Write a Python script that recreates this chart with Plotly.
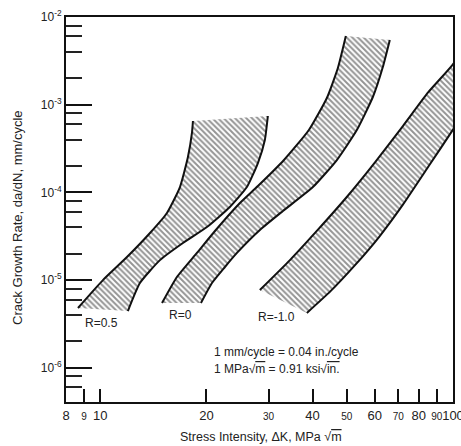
import math
import plotly.graph_objects as go

# ---- data (ΔK in MPa·√m, da/dN in mm/cycle) ----
# R = 0.5 band
r05_upper_k = [8.65, 10.18, 11.91, 13.84, 15.46, 16.83, 17.73, 18.20, 18.32]
r05_upper_g = [4.81e-6, 1.00e-5, 1.83e-5, 3.44e-5, 5.82e-5, 1.15e-4, 2.53e-4, 4.76e-4, 6.52e-4]
r05_lower_k = [11.98, 12.96, 14.77, 17.16, 20.07, 23.31, 26.05, 27.99, 29.29, 29.87]
r05_lower_g = [4.44e-6, 9.27e-6, 1.69e-5, 2.65e-5, 4.03e-5, 6.82e-5, 1.15e-4, 2.16e-4, 3.96e-4, 7.43e-4]

# R = 0 band
r0_upper_k = [14.97, 16.50, 18.80, 21.15, 24.89, 27.99, 33.18, 39.04, 43.90, 47.17, 49.69]
r0_upper_g = [5.48e-6, 1.085e-5, 2.04e-5, 3.63e-5, 7.57e-5, 1.18e-4, 2.34e-4, 5.14e-4, 1.193e-3, 2.62e-3, 6.07e-3]
r0_lower_k = [19.30, 20.74, 22.57, 24.41, 28.35, 32.96, 40.07, 46.86, 53.38, 59.27, 63.26, 66.21]
r0_lower_g = [5.48e-6, 9.27e-6, 1.41e-5, 2.04e-5, 3.73e-5, 6.14e-5, 1.15e-4, 2.34e-4, 5.14e-4, 1.224e-3, 2.69e-3, 5.47e-3]

# R = -1.0 band
rm1_upper_k = [28.35, 34.50, 41.6, 50.0, 60.1, 72.2, 85.0, 99.3, 111.6]
rm1_upper_g = [7.71e-6, 1.69e-5, 3.83e-5, 8.86e-5, 2.20e-4, 5.75e-4, 1.38e-3, 2.79e-3, 5.47e-3]
rm1_lower_k = [38.53, 44.9, 52.6, 61.7, 72.2, 84.8, 100.0, 115.3]
rm1_lower_g = [4.22e-6, 7.43e-6, 1.46e-5, 3.10e-5, 7.30e-5, 1.92e-4, 5.20e-4, 1.30e-3]

band_labels = ["R=0.5", "R=0", "R=-1.0"]
label_k = [10.1, 16.9, 31.7]
label_g = [3.25e-6, 4.0e-6, 3.8e-6]

x_tick_vals = [8, 9, 10, 20, 30, 40, 50, 60, 70, 80, 90, 100]
x_tick_small = [9, 30, 50, 70, 90]
y_tick_vals = [1e-6, 1e-5, 1e-4, 1e-3, 1e-2]
y_tick_text = ["10<sup>-6</sup>", "10<sup>-5</sup>", "10<sup>-4</sup>", "10<sup>-3</sup>", "10<sup>-2</sup>"]
y_minor_vals = [m * 10 ** e for e in range(-7, -2) for m in (2, 4, 6, 8)]

FONT = "Liberation Sans, Arial, sans-serif"
TXT = "#222"

fig = go.Figure()

bands = [
    (r05_upper_k, r05_upper_g, r05_lower_k, r05_lower_g),
    (r0_upper_k, r0_upper_g, r0_lower_k, r0_lower_g),
    (rm1_upper_k, rm1_upper_g, rm1_lower_k, rm1_lower_g),
]

for uk, ug, lk, lg in bands:
    px = uk + lk[::-1] + [uk[0]]
    py = ug + lg[::-1] + [ug[0]]
    fig.add_trace(go.Scatter(
        x=px, y=py, mode="lines", fill="toself",
        line=dict(width=0, color="rgba(0,0,0,0)"),
        fillcolor="white",
        fillpattern=dict(shape="\\", size=4, solidity=0.5,
                         fgcolor="#2a2a2a", bgcolor="white"),
        hoverinfo="skip", showlegend=False,
    ))
    for ek, eg in ((uk, ug), (lk, lg)):
        fig.add_trace(go.Scatter(
            x=ek, y=eg, mode="lines",
            line=dict(color="#111", width=2, shape="spline", smoothing=0.5),
            hoverinfo="skip", showlegend=False,
        ))

annotations = []
for t, k, g in zip(band_labels, label_k, label_g):
    annotations.append(dict(x=math.log10(k), y=math.log10(g), xref="x", yref="y",
                            text=t, showarrow=False,
                            font=dict(family=FONT, size=12, color=TXT)))

sq_m = "√<span style='text-decoration:overline'>m</span>"
sq_in = "√<span style='text-decoration:overline'>in.</span>"
annotations.append(dict(x=math.log10(20.7), y=math.log10(1.51e-6), xref="x", yref="y",
                        xanchor="left", text="1 mm/cycle = 0.04 in./cycle", showarrow=False,
                        font=dict(family=FONT, size=12, color=TXT)))
annotations.append(dict(x=math.log10(20.7), y=math.log10(9.7e-7), xref="x", yref="y",
                        xanchor="left", text="1 MPa" + sq_m + " = 0.91 ksi" + sq_in,
                        showarrow=False, font=dict(family=FONT, size=12, color=TXT)))
# axis titles
annotations.append(dict(x=0.504, y=-0.091, xref="paper", yref="paper",
                        xanchor="center", yanchor="middle",
                        text="Stress Intensity, ΔK, MPa " + sq_m, showarrow=False,
                        font=dict(family=FONT, size=12.5, color=TXT)))
annotations.append(dict(x=-0.124, y=0.478, xref="paper", yref="paper", textangle=-90,
                        xanchor="center", yanchor="middle",
                        text="Crack Growth Rate, da/dN, mm/cycle", showarrow=False,
                        font=dict(family=FONT, size=13, color=TXT)))

x_tick_text = [f"<span style='font-size:10px'>{v}</span>" if v in x_tick_small else str(v)
               for v in x_tick_vals]

fig.update_layout(
    width=461, height=446,
    margin=dict(l=66, r=8, t=17, b=44, autoexpand=False),
    paper_bgcolor="white", plot_bgcolor="white",
    annotations=annotations,
    xaxis=dict(
        type="log", range=[math.log10(8), 2], automargin=False,
        showgrid=False, zeroline=False,
        showline=True, linecolor="#111", linewidth=2, mirror=True,
        ticks="inside", tickvals=x_tick_vals, ticktext=x_tick_text,
        ticklen=13, tickwidth=1.5, tickcolor="#111", tickangle=0,
        ticklabeloverflow="allow",
        tickfont=dict(family=FONT, size=13, color=TXT),
    ),
    yaxis=dict(
        type="log", range=[-6.39, -2], automargin=False,
        showgrid=False, zeroline=False,
        showline=True, linecolor="#111", linewidth=2, mirror=True,
        ticks="inside", tickvals=y_tick_vals, ticktext=y_tick_text,
        ticklen=26, tickwidth=2, tickcolor="#111",
        tickfont=dict(family=FONT, size=12, color=TXT),
        minor=dict(tickmode="array", tickvals=y_minor_vals, ticks="inside",
                   ticklen=16, tickwidth=1.5, tickcolor="#222", showgrid=False),
    ),
)

fig.write_html("out.html")
